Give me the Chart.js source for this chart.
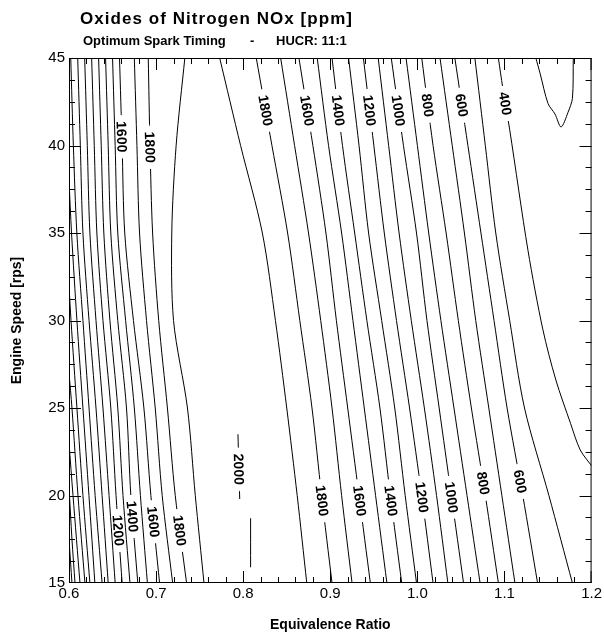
<!DOCTYPE html>
<html>
<head>
<meta charset="utf-8">
<script src="https://cdn.jsdelivr.net/npm/chart.js@4.4.1/dist/chart.umd.min.js"></script>
<style>
html,body{margin:0;padding:0;background:#fff;}
canvas{display:block;}
</style>
</head>
<body>
<canvas id="nox" width="604" height="636"></canvas>
<script>
const FONT = "'Liberation Sans', Arial, Helvetica, sans-serif";

// engine speeds at which each contour's equivalence ratio is given
const rpsGrid = [45, 40, 35, 30, 25, 20, 15];

// lean side of the NOx peak
const leanLevels = [1900, 1800, 1700, 1600, 1500, 1400, 1300, 1200, 1100, 1000, 900];
const leanPhi = [
  [0.733, 0.723, 0.718, 0.720, 0.736, 0.745, 0.755],
  [0.691, 0.693, 0.696, 0.703, 0.713, 0.722, 0.735],
  [0.675, 0.678, 0.681, 0.689, 0.699, 0.707, 0.719],
  [0.658, 0.661, 0.664, 0.674, 0.686, 0.694, 0.704],
  [0.650, 0.653, 0.656, 0.665, 0.675, 0.682, 0.690],
  [0.642, 0.645, 0.648, 0.656, 0.666, 0.671, 0.679],
  [0.634, 0.637, 0.640, 0.647, 0.656, 0.662, 0.670],
  [0.626, 0.629, 0.632, 0.639, 0.648, 0.654, 0.661],
  [0.618, 0.621, 0.624, 0.631, 0.639, 0.646, 0.653],
  [0.610, 0.613, 0.616, 0.623, 0.631, 0.638, 0.645],
  [0.602, 0.605, 0.609, 0.616, 0.623, 0.630, 0.638]
];

// rich side of the NOx peak
const richLevels = [1900, 1800, 1700, 1600, 1500, 1400, 1300, 1200, 1100, 1000, 900, 800, 700, 600, 500];
const richPhi = [
  [0.773, 0.797, 0.822, 0.837, 0.850, 0.862, 0.873],
  [0.815, 0.833, 0.851, 0.865, 0.879, 0.890, 0.902],
  [0.843, 0.859, 0.875, 0.889, 0.902, 0.913, 0.925],
  [0.864, 0.880, 0.895, 0.907, 0.920, 0.933, 0.946],
  [0.885, 0.898, 0.913, 0.926, 0.939, 0.952, 0.965],
  [0.902, 0.914, 0.928, 0.942, 0.957, 0.969, 0.982],
  [0.921, 0.933, 0.944, 0.959, 0.974, 0.986, 0.999],
  [0.938, 0.950, 0.962, 0.976, 0.991, 1.005, 1.018],
  [0.955, 0.967, 0.979, 0.993, 1.008, 1.022, 1.035],
  [0.970, 0.984, 0.999, 1.011, 1.025, 1.039, 1.053],
  [0.987, 1.000, 1.013, 1.027, 1.042, 1.057, 1.072],
  [1.005, 1.018, 1.033, 1.047, 1.062, 1.078, 1.093],
  [1.026, 1.040, 1.054, 1.067, 1.082, 1.097, 1.112],
  [1.043, 1.058, 1.073, 1.088, 1.103, 1.121, 1.138],
  [1.066, 1.078, 1.090, 1.106, 1.123, 1.151, 1.178]
];

// contours that run out through a side of the plot, as [phi, rps]
const lean800 = [[0.6, 38], [0.6029, 35], [0.6091, 30], [0.616, 25], [0.6229, 20], [0.6297, 15]];
const lean700 = [[0.6, 32], [0.6023, 30], [0.6091, 25], [0.616, 20], [0.624, 15]];
const lean600 = [[0.6, 27], [0.6034, 25], [0.6103, 20], [0.6183, 15]];
const lean500 = [[0.6, 23], [0.6046, 20], [0.6126, 15]];
const lean400 = [[0.6, 20.5], [0.6034, 17.5], [0.6069, 15]];
const lean300 = [[0.6, 17.5], [0.6034, 15]];
const rich400 = [[1.093, 45], [1.098, 43.3], [1.106, 40.9], [1.127, 34.0], [1.144, 29.5], [1.159, 26.6], [1.176, 24.1], [1.187, 22.6], [1.2, 21.7]];
const rich300 = [[1.136, 45], [1.141, 44.1], [1.150, 42.4], [1.158, 41.8], [1.165, 41.06], [1.173, 41.9], [1.178, 42.7], [1.179, 45]];
const peak2000 = [[0.794, 23.5], [0.796, 19.8]];
const peak2000b = [[0.8085, 18.7], [0.8085, 15.9]];

// inline contour labels: [contour name, rps where the label sits]
const labelSpots = [
  ["lean 1600", 40.5], ["lean 1800", 39.9],
  ["lean 1200", 18.0], ["lean 1400", 18.8], ["lean 1600", 18.5], ["lean 1800", 18.0],
  ["rich 1800", 42.0], ["rich 1600", 42.0], ["rich 1400", 42.0], ["rich 1200", 42.0],
  ["rich 1000", 42.0], ["rich 800", 42.3], ["rich 600", 42.3], ["rich 400", 42.4],
  ["rich 1800", 19.7], ["rich 1600", 19.7], ["rich 1400", 19.7], ["rich 1200", 19.9],
  ["rich 1000", 19.9], ["rich 800", 20.7], ["rich 600", 20.8],
  ["peak 2000", 21.5]
];

const xMajor = [0.6, 0.7, 0.8, 0.9, 1.0, 1.1, 1.2];
const yMajor = [15, 20, 25, 30, 35, 40, 45];

function contour(name, pts){
  return {label:name, data:pts.map(p=>({x:p[0], y:p[1]})), borderColor:"#000", borderWidth:1, pointRadius:0, fill:false, tension:0.3};
}

const datasets = [];
leanLevels.forEach((lv,i)=>datasets.push(contour("lean "+lv, leanPhi[i].map((p,j)=>[p, rpsGrid[j]]))));
richLevels.forEach((lv,i)=>datasets.push(contour("rich "+lv, richPhi[i].map((p,j)=>[p, rpsGrid[j]]))));
[["lean 800", lean800], ["lean 700", lean700], ["lean 600", lean600], ["lean 500", lean500],
 ["lean 400", lean400], ["lean 300", lean300], ["rich 400", rich400], ["rich 300", rich300],
 ["peak 2000", peak2000], ["peak 2000b", peak2000b]].forEach(([n, pts])=>datasets.push(contour(n, pts)));

/* rotated level labels sitting in a gap of their contour */
const contourLabels = {
  id:"contourLabels",
  afterDatasetsDraw(chart){
    const ctx = chart.ctx, ys = chart.scales.y;
    labelSpots.forEach(([name, rps])=>{
      const idx = chart.data.datasets.findIndex(d=>d.label===name);
      const pts = chart.getDatasetMeta(idx).data;
      const py = ys.getPixelForValue(rps);
      for(let k=1;k<pts.length;k++){
        const a = pts[k-1], b = pts[k];
        if((a.y-py)*(b.y-py)>0 || a.y===b.y) continue;
        const t = (py-a.y)/(b.y-a.y);
        const px = a.x + t*(b.x-a.x);
        let ang = Math.atan2(b.y-a.y, b.x-a.x);
        if(ang<0) ang += Math.PI;
        const text = name.split(" ")[1];
        ctx.save();
        ctx.font = "bold 14px "+FONT;
        const w = ctx.measureText(text).width;
        ctx.translate(px, py);
        ctx.rotate(ang);
        ctx.fillStyle = "#fff";
        ctx.fillRect(-w/2-6, -4.5, w+12, 9);
        ctx.fillStyle = "#000";
        ctx.textAlign = "center";
        ctx.textBaseline = "middle";
        ctx.fillText(text, 0, 1);
        ctx.restore();
        break;
      }
    });
  }
};

/* box with inward major/minor ticks on all four sides */
const frameTicks = {
  id:"frameTicks",
  afterDraw(chart){
    const {ctx, chartArea:a, scales:{x, y}} = chart;
    const snap = (p, lo, hi)=>Math.min(Math.max(Math.round(p)+0.5, lo+0.5), hi-0.5);
    ctx.save();
    ctx.strokeStyle = "#000";
    ctx.lineWidth = 1;
    ctx.strokeRect(a.left+0.5, a.top+0.5, a.right-a.left-1, a.bottom-a.top-1);
    ctx.beginPath();
    for(let i=0;i<=30;i++){
      const px = snap(x.getPixelForValue(0.6+i*0.02), a.left, a.right);
      const len = i%5===0 ? 12 : 6;
      ctx.moveTo(px, a.bottom); ctx.lineTo(px, a.bottom-len);
      ctx.moveTo(px, a.top); ctx.lineTo(px, a.top+len);
    }
    for(let i=0;i<=24;i++){
      const py = snap(y.getPixelForValue(15+i*1.25), a.top, a.bottom);
      const len = i%4===0 ? 12 : 6;
      ctx.moveTo(a.left, py); ctx.lineTo(a.left+len, py);
      ctx.moveTo(a.right, py); ctx.lineTo(a.right-len, py);
    }
    ctx.stroke();
    ctx.restore();
  }
};

function spreadText(ctx, text, x, y, width){
  ctx.letterSpacing = "0px";
  const w = ctx.measureText(text).width;
  const extra = Math.max(0, (width-w)/(text.length-1));
  ctx.letterSpacing = extra+"px";
  ctx.fillText(text, x, y);
  ctx.letterSpacing = "0px";
}

const headings = {
  id:"headings",
  afterDraw(chart){
    const ctx = chart.ctx;
    ctx.save();
    ctx.fillStyle = "#000";
    ctx.textAlign = "left";
    ctx.textBaseline = "alphabetic";
    ctx.font = "bold 17px "+FONT;
    spreadText(ctx, "Oxides of Nitrogen NOx [ppm]", 80, 24, 272);
    ctx.font = "bold 13px "+FONT;
    ctx.fillText("Optimum Spark Timing", 83, 45);
    ctx.fillText("-", 250, 45);
    ctx.fillText("HUCR: 11:1", 276, 45);
    ctx.restore();
  }
};

new Chart(document.getElementById("nox"), {
  type:"line",
  data:{datasets},
  options:{
    responsive:false,
    animation:false,
    devicePixelRatio:1,
    layout:{padding:{top:58, right:10, left:9, bottom:2}},
    plugins:{legend:{display:false}, tooltip:{enabled:false}},
    scales:{
      x:{
        type:"linear", min:0.6, max:1.2,
        afterFit(s){ s.height = 51; },
        afterBuildTicks(s){ s.ticks = xMajor.map(v=>({value:v})); },
        grid:{display:false, drawTicks:false}, border:{display:false},
        ticks:{color:"#000", font:{size:15, family:FONT}, padding:2, maxRotation:0, autoSkip:false,
          callback:v=>v.toFixed(1)},
        title:{display:true, text:"Equivalence Ratio", color:"#000", font:{size:14, weight:"bold", family:FONT}, padding:0}
      },
      y:{
        type:"linear", min:15, max:45,
        afterFit(s){ s.width = 60; },
        afterBuildTicks(s){ s.ticks = yMajor.map(v=>({value:v})); },
        grid:{display:false, drawTicks:false}, border:{display:false},
        ticks:{color:"#000", font:{size:15, family:FONT}, padding:4, autoSkip:false},
        title:{display:true, text:"Engine Speed [rps]", color:"#000", font:{size:14, weight:"bold", family:FONT}, padding:0}
      }
    }
  },
  plugins:[contourLabels, frameTicks, headings]
});
</script>
</body>
</html>
